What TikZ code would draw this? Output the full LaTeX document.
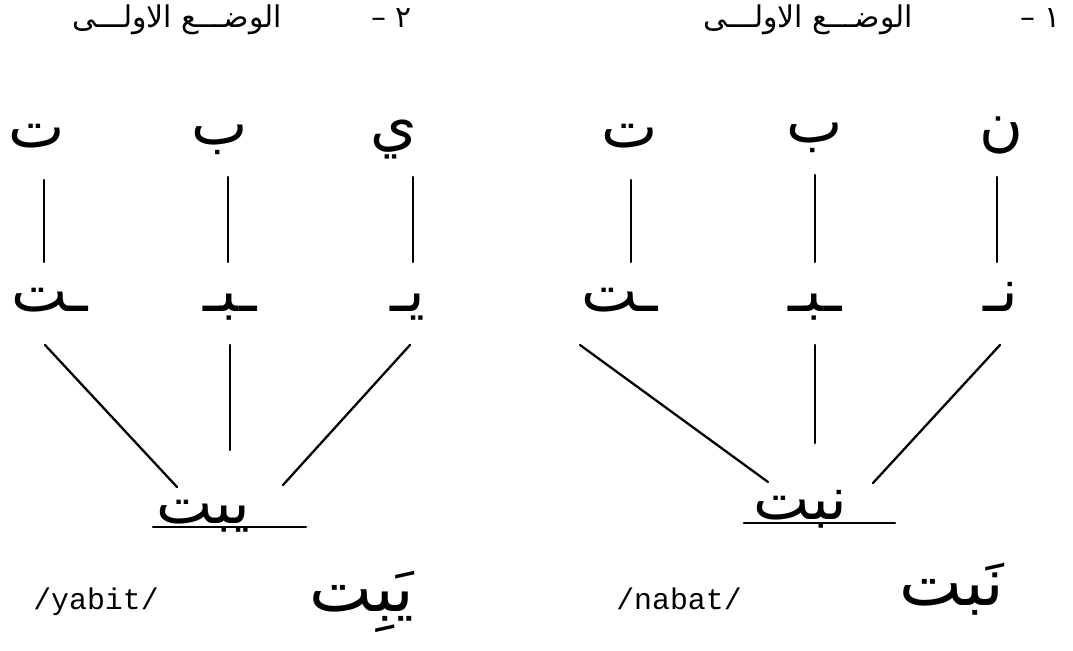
\documentclass[tikz,border=0pt]{standalone}
\usepackage{fontspec}
\newfontfamily\arabicfont[Script=Arabic]{DejaVu Sans}
\newfontfamily\translitfont{Liberation Mono}
\TeXXeTstate=1
\tikzset{
  heading/.style={font=\arabicfont\fontsize{17}{19}\selectfont, inner sep=0pt, anchor=base},
  letter/.style={font=\arabicfont\fontsize{34}{38}\selectfont, inner sep=0pt, anchor=base},
  word/.style={font=\arabicfont\fontsize{34}{38}\selectfont, inner sep=0pt, anchor=base},
  vowelled/.style={font=\arabicfont\fontsize{38}{42}\selectfont, inner sep=0pt, anchor=base},
  translit/.style={font=\translitfont\fontsize{17}{19}\selectfont, inner sep=0pt, anchor=base},
  link/.style={line width=1.3pt}
}
\begin{document}
\begin{tikzpicture}[x=0.02cm, y=-0.02cm, line cap=round]
  \useasboundingbox (0,0) rectangle (1073,651);
  % headings
  \node[heading] (h2) at (242,28) {\beginR ٢ –\hspace{3em}الوضـــع الاولـــى\endR};
  \node[heading] (h1) at (882,28) {\beginR ١ –\hspace{3.6em}الوضـــع الاولـــى\endR};
  % 2: yabit
  \node[letter] (yT) at (37,148) {\beginR ت\endR};
  \node[letter] (yB) at (220,145) {\beginR ب\endR};
  \node[letter] (yY) at (394,145) {\beginR ي\endR};
  \node[letter] (ymT) at (50,312) {\beginR ـت\endR};
  \node[letter] (ymB) at (230,312) {\beginR ـبـ\endR};
  \node[letter] (ymY) at (408,312) {\beginR يـ\endR};
  \node[word] (yW) at (203,524) {\beginR يبت\endR};
  \node[translit] (yR) at (96,610) {/yabit/};
  \node[vowelled] (yV) at (362,612) {\beginR يَبِت\endR};
  \foreach \a/\b/\da/\db in {yT/ymT/7/-6,yB/ymB/8/-2,yY/ymY/19/5}
    \draw[link] ([shift={(\da,32)}]\a.base) -- ([shift={(\db,-50)}]\b.base);
  \draw[link] ([shift={(-5,33)}]ymT.base) -- ([shift={(-26,-37)}]yW.base);
  \draw[link] ([shift={(0,33)}]ymB.base) -- ([shift={(27,-74)}]yW.base);
  \draw[link] ([shift={(2,33)}]ymY.base) -- ([shift={(80,-39)}]yW.base);
  \draw[link] ([shift={(-50,3)}]yW.base) -- ++(153,0);
  % 1: nabat
  \node[letter] (nT) at (630,148) {\beginR ت\endR};
  \node[letter] (nB) at (815,143) {\beginR ب\endR};
  \node[letter] (nN) at (1001,145) {\beginR ن\endR};
  \node[letter] (nmT) at (620,312) {\beginR ـت\endR};
  \node[letter] (nmB) at (815,312) {\beginR ـبـ\endR};
  \node[letter] (nmN) at (1001,312) {\beginR نـ\endR};
  \node[word] (nW) at (800,520) {\beginR نبت\endR};
  \node[translit] (nR) at (679,610) {/nabat/};
  \node[vowelled] (nV) at (952,606) {\beginR نَبت\endR};
  \foreach \a/\b/\da/\db in {nT/nmT/1/11,nB/nmB/0/0,nN/nmN/-4/-4}
    \draw[link] ([shift={(\da,32)}]\a.base) -- ([shift={(\db,-50)}]\b.base);
  \draw[link] ([shift={(-40,33)}]nmT.base) -- ([shift={(-32,-38)}]nW.base);
  \draw[link] ([shift={(0,33)}]nmB.base) -- ([shift={(15,-77)}]nW.base);
  \draw[link] ([shift={(-1,33)}]nmN.base) -- ([shift={(73,-37)}]nW.base);
  \draw[link] ([shift={(-56,3)}]nW.base) -- ++(151,0);
\end{tikzpicture}
\end{document}
